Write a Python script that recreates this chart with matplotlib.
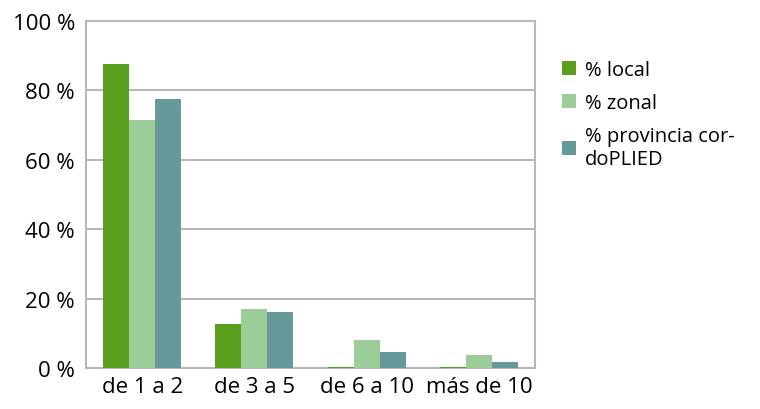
import matplotlib.pyplot as plt
import numpy as np

categories = ['de 1 a 2', 'de 3 a 5', 'de 6 a 10', 'más de 10']
local = [87.6, 12.7, 0.3, 0.3]
zonal = [71.5, 17.0, 8.1, 3.7]
provincia = [77.5, 16.1, 4.6, 1.7]
series_labels = ['% local', '% zonal', '% provincia cor-\ndoPLIED']
colors = ['#5a9e1e', '#9acd98', '#669999']

plt.rcParams['font.family'] = ['Open Sans', 'DejaVu Sans']

fig = plt.figure(figsize=(7.6, 4.1), dpi=100)
ax = fig.add_axes([86 / 760, 1 - 369 / 410, (535 - 86) / 760, (369 - 22) / 410])

x = np.arange(len(categories))
w = 0.232
for i, (vals, lab, c) in enumerate(zip([local, zonal, provincia], series_labels, colors)):
    ax.bar(x + (i - 1) * w, vals, w, color=c, label=lab, zorder=3)

ax.set_xlim(-0.5, len(categories) - 0.5)
ax.set_ylim(0, 100)
ax.set_yticks(range(0, 101, 20))
ax.set_yticklabels([f'{v} %' for v in range(0, 101, 20)])
ax.set_xticks(x)
ax.set_xticklabels(categories)
ax.tick_params(axis='both', length=0, labelsize=16, colors='black')
ax.tick_params(axis='x', pad=6)
ax.tick_params(axis='y', pad=8)
ax.grid(axis='y', color='#b8b8b8', linewidth=1.5, zorder=0)
for s in ax.spines.values():
    s.set_color('#b8b8b8')
    s.set_linewidth(1.5)

ax.legend(loc='upper left', bbox_to_anchor=(1.02, 0.94), frameon=False, fontsize=14.5,
          handlelength=0.7, handleheight=0.7, handletextpad=0.45, labelspacing=0.65)

plt.savefig('out.png', dpi=100)
